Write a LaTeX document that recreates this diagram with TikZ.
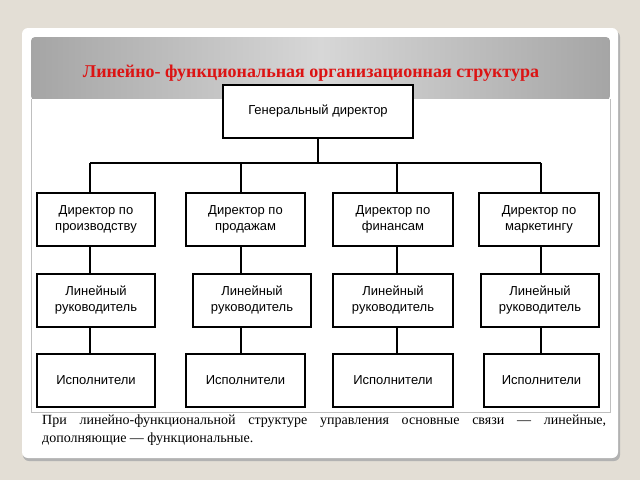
\documentclass[tikz,border=0pt]{standalone}
\usepackage{fontspec}
\setmainfont{Liberation Serif}
\newfontfamily\boxfont{Liberation Sans}
\definecolor{bgc}{RGB}{227,222,213}
\definecolor{hdr}{RGB}{165,165,165}
\definecolor{hdrl}{RGB}{215,215,215}
\definecolor{ttl}{RGB}{220,20,20}
\begin{document}
\begin{tikzpicture}[x=1pt,y=-1pt,
  bx/.style={draw,line width=2pt,fill=white,align=center,font=\boxfont\fontsize{13}{16}\selectfont,inner sep=0pt},
  ln/.style={line width=2pt}]
\useasboundingbox (0,0) rectangle (640,480);
\fill[bgc] (0,0) rectangle (640,480);
\fill[gray!60,rounded corners=6pt] (23,31) rectangle (620,461);
\fill[white,rounded corners=6pt] (22,28) rectangle (618,458);
\shade[left color=hdr,right color=hdr,middle color=hdrl,rounded corners=4pt] (31,37) rectangle (610,100);
\fill[white] (31,99) rectangle (610,104);
\draw[gray!50,line width=1pt] (31,99) -- (31,412) -- (610,412) -- (610,99);
\node[text=ttl,font=\bfseries\fontsize{18}{20}\selectfont,anchor=base] (title) at (311,77) {Линейно- функциональная организационная структура};

\node[bx,minimum width=190,minimum height=53] (g) at (318,111.5) {Генеральный директор};
\foreach \n/\x/\w/\t in {d1/96/118/{Директор по\\производству},d2/245.5/119/{Директор по\\продажам},d3/393/120/{Директор по\\финансам},d4/539/120/{Директор по\\маркетингу}}
  \node[bx,minimum width=\w,minimum height=53] (\n) at (\x,219.5) {\t};
\foreach \n/\x/\w in {l1/96/118,l2/252/118,l3/393/120,l4/540/118}
  \node[bx,minimum width=\w,minimum height=53] (\n) at (\x,300.5) {Линейный\\руководитель};
\foreach \n/\x/\w in {e1/96/118,e2/245.5/119,e3/393/120,e4/541.5/115}
  \node[bx,minimum width=\w,minimum height=53] (\n) at (\x,380.5) {Исполнители};

\coordinate (bus) at (317,163);
\draw[ln] (g.south) -- (g.south |- bus);
\draw[ln] (90,163) -- (541,163);
\foreach \i/\x in {1/90,2/241,3/397,4/541}{
  \draw[ln] (\x,163) -- (\x,0 |- d\i.north);
  \draw[ln] (\x,0 |- d\i.south) -- (\x,0 |- l\i.north);
  \draw[ln] (\x,0 |- l\i.south) -- (\x,0 |- e\i.north);
}
\node[anchor=north west,text width=564pt,align=justify,inner sep=0pt,font=\fontsize{14}{18}\selectfont] (cap) at (42,415) {При линейно-функциональной структуре управления основные связи — линейные, дополняющие — функциональные.};
\end{tikzpicture}
\end{document}
